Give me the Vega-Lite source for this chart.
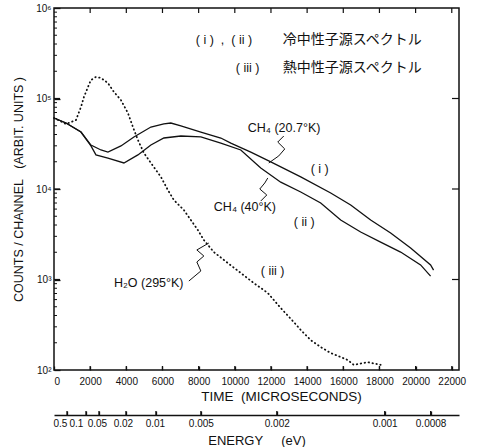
{
  "$schema": "https://vega.github.io/schema/vega-lite/v6.json",
  "width": 405,
  "height": 362,
  "padding": {"left": 12, "top": 3, "right": 5, "bottom": 0},
  "background": "white",
  "datasets": {
    "ci": [
      {"t": 0, "c": 60900}, {"t": 663, "c": 53600}, {"t": 1492, "c": 42600}, {"t": 2044, "c": 30600},
      {"t": 2597, "c": 27000}, {"t": 2983, "c": 25600}, {"t": 3702, "c": 29900}, {"t": 4420, "c": 37600},
      {"t": 5359, "c": 48400}, {"t": 6077, "c": 52300}, {"t": 6464, "c": 53600}, {"t": 7017, "c": 49700},
      {"t": 8122, "c": 42600}, {"t": 9227, "c": 36600}, {"t": 9779, "c": 32200}, {"t": 10884, "c": 25600},
      {"t": 11989, "c": 19900}, {"t": 13646, "c": 13600}, {"t": 15304, "c": 9030}, {"t": 16409, "c": 6650},
      {"t": 17514, "c": 4540}, {"t": 18619, "c": 3270}, {"t": 19724, "c": 2230}, {"t": 20829, "c": 1450},
      {"t": 20994, "c": 1270}
    ],
    "cii": [
      {"t": 0, "c": 60900}, {"t": 663, "c": 53600}, {"t": 1492, "c": 42600}, {"t": 2044, "c": 29900},
      {"t": 2320, "c": 23800}, {"t": 2983, "c": 22000}, {"t": 3867, "c": 19400}, {"t": 4641, "c": 23800},
      {"t": 5359, "c": 30600}, {"t": 6077, "c": 36600}, {"t": 7017, "c": 38500}, {"t": 8122, "c": 37600},
      {"t": 9227, "c": 32200}, {"t": 10331, "c": 27000}, {"t": 11436, "c": 17100}, {"t": 12541, "c": 11900},
      {"t": 13646, "c": 9270}, {"t": 14751, "c": 7000}, {"t": 15856, "c": 4540}, {"t": 16961, "c": 3350},
      {"t": 18066, "c": 2590}, {"t": 19171, "c": 2010}, {"t": 20276, "c": 1450}, {"t": 20829, "c": 1090}
    ],
    "ciii": [
      {"t": 0, "c": 60900}, {"t": 663, "c": 52300}, {"t": 1215, "c": 57800}, {"t": 1492, "c": 80600},
      {"t": 1657, "c": 104000}, {"t": 1878, "c": 134000}, {"t": 2044, "c": 160000}, {"t": 2320, "c": 173000},
      {"t": 2597, "c": 169000}, {"t": 2983, "c": 148000}, {"t": 3315, "c": 118000}, {"t": 3702, "c": 96200},
      {"t": 4088, "c": 69200}, {"t": 4365, "c": 48400}, {"t": 4641, "c": 34800}, {"t": 4972, "c": 25000},
      {"t": 5359, "c": 19400}, {"t": 5912, "c": 13600}, {"t": 6298, "c": 9750}, {"t": 6630, "c": 7550},
      {"t": 7182, "c": 5860}, {"t": 7569, "c": 4540}, {"t": 7956, "c": 3520}, {"t": 8287, "c": 2730},
      {"t": 8840, "c": 2010}, {"t": 9613, "c": 1520}, {"t": 10331, "c": 1180}, {"t": 11050, "c": 914},
      {"t": 11823, "c": 710}, {"t": 12541, "c": 484}, {"t": 13260, "c": 339}, {"t": 13646, "c": 277},
      {"t": 14199, "c": 214}, {"t": 14751, "c": 179}, {"t": 15304, "c": 154}, {"t": 15856, "c": 139},
      {"t": 16243, "c": 129}, {"t": 16575, "c": 114}, {"t": 17348, "c": 122}, {"t": 18066, "c": 114}
    ],
    "arrows": [
      {"g": "a", "k": 0, "t": 12708, "c": 38500}, {"g": "a", "k": 1, "t": 12376, "c": 33000},
      {"g": "a", "k": 2, "t": 12763, "c": 27700}, {"g": "a", "k": 3, "t": 12431, "c": 23200},
      {"g": "a", "k": 4, "t": 11879, "c": 19400},
      {"g": "b", "k": 0, "t": 11437, "c": 7370}, {"g": "b", "k": 1, "t": 11768, "c": 8590},
      {"g": "b", "k": 2, "t": 11382, "c": 10000}, {"g": "b", "k": 3, "t": 11658, "c": 11650},
      {"g": "b", "k": 4, "t": 11824, "c": 13240},
      {"g": "c", "k": 0, "t": 7459, "c": 962}, {"g": "c", "k": 1, "t": 8122, "c": 1242},
      {"g": "c", "k": 2, "t": 7901, "c": 1561}, {"g": "c", "k": 3, "t": 8288, "c": 1818},
      {"g": "c", "k": 4, "t": 7901, "c": 2120}, {"g": "c", "k": 5, "t": 8564, "c": 2530}
    ],
    "notes": [
      {"t": 10719, "c": 47200, "label": "CH₄ (20.7°K)"},
      {"t": 8840, "c": 6320, "label": "CH₄ (40°K)"},
      {"t": 14199, "c": 16630, "label": "( i )"},
      {"t": 13260, "c": 4320, "label": "( ii )"},
      {"t": 11437, "c": 1242, "label": "( iii )"},
      {"t": 3315, "c": 915, "label": "H₂O (295°K)"},
      {"t": 7846, "c": 443000, "label": "( i )\u00a0\u00a0,\u00a0\u00a0( ii )"},
      {"t": 10056, "c": 217000, "label": "( iii )"}
    ],
    "notesJa": [
      {"t": 12652, "c": 443000, "label": "冷中性子源スペクトル"},
      {"t": 12652, "c": 217000, "label": "熱中性子源スペクトル"}
    ],
    "xticks": [
      {"v": 2000}, {"v": 4000}, {"v": 6000}, {"v": 8000}, {"v": 10000}, {"v": 12000},
      {"v": 14000}, {"v": 16000}, {"v": 18000}, {"v": 20000}, {"v": 22000}
    ],
    "yticks": [{"v": 1000}, {"v": 10000}, {"v": 100000}],
    "yminor": [
      {"v": 200}, {"v": 300}, {"v": 400}, {"v": 500}, {"v": 600}, {"v": 700}, {"v": 800}, {"v": 900},
      {"v": 2000}, {"v": 3000}, {"v": 4000}, {"v": 5000}, {"v": 6000}, {"v": 7000}, {"v": 8000}, {"v": 9000},
      {"v": 20000}, {"v": 30000}, {"v": 40000}, {"v": 50000}, {"v": 60000}, {"v": 70000}, {"v": 80000}, {"v": 90000},
      {"v": 200000}, {"v": 300000}, {"v": 400000}, {"v": 500000}, {"v": 600000}, {"v": 700000}, {"v": 800000}, {"v": 900000}
    ],
    "eticks": [
      {"v": 718}, {"v": 1768}, {"v": 2486}, {"v": 3978}, {"v": 5636}, {"v": 8122}, {"v": 12321}, {"v": 18288}, {"v": 20829}
    ]
  },
  "layer": [
    {
      "data": {"name": "ci"},
      "mark": {"type": "line", "stroke": "#111", "strokeWidth": 1.3},
      "encoding": {
        "x": {"field": "t", "type": "quantitative", "scale": {"domain": [0, 22400], "nice": false, "zero": false},
          "axis": {"orient": "bottom", "values": [0, 2000, 4000, 6000, 8000, 10000, 12000, 14000, 16000, 18000, 20000, 22000],
            "format": "d", "offset": -4, "ticks": true, "tickSize": 4, "tickWidth": 1.3, "labelPadding": 6, "labelFontSize": 10, "labelOverlap": false, "domain": false,
            "title": "TIME\u00a0\u00a0(MICROSECONDS)", "titleFontSize": 13.5, "titlePadding": 3, "titleX": 227}},
        "y": {"field": "c", "type": "quantitative", "scale": {"type": "log", "domain": [100, 1000000], "nice": false},
          "axis": {"orient": "left", "values": [100, 1000, 10000, 100000, 1000000],
            "labelExpr": "datum.value == 100 ? '10²' : datum.value == 1000 ? '10³' : datum.value == 10000 ? '10⁴' : datum.value == 100000 ? '10⁵' : '10⁶'",
            "offset": -6, "ticks": true, "tickSize": 6, "tickWidth": 1.3, "labelPadding": 3, "labelFontSize": 10, "domain": false,
            "title": "COUNTS / CHANNEL\u00a0\u00a0\u00a0(ARBIT. UNITS )", "titleFontSize": 12.5, "titlePadding": 10}}
      }
    },
    {
      "data": {"name": "cii"},
      "mark": {"type": "line", "stroke": "#111", "strokeWidth": 1.3},
      "encoding": {
        "x": {"field": "t", "type": "quantitative", "scale": {"domain": [0, 22400], "nice": false, "zero": false}, "axis": null},
        "y": {"field": "c", "type": "quantitative", "scale": {"type": "log", "domain": [100, 1000000], "nice": false}, "axis": null}
      }
    },
    {
      "data": {"name": "ciii"},
      "mark": {"type": "line", "stroke": "#111", "strokeWidth": 1.8, "strokeDash": [0.5, 3.5], "strokeCap": "round"},
      "encoding": {
        "x": {"field": "t", "type": "quantitative", "scale": {"domain": [0, 22400], "nice": false, "zero": false},
          "axis": {"orient": "bottom", "offset": 41, "values": [718, 1768, 2486, 3978, 5636, 8122, 12321, 18288, 20829],
            "labelExpr": "datum.value == 718 ? '0.5' : datum.value == 1768 ? '0.1' : datum.value == 2486 ? '0.05' : datum.value == 3978 ? '0.02' : datum.value == 5636 ? '0.01' : datum.value == 8122 ? '0.005' : datum.value == 12321 ? '0.002' : datum.value == 18288 ? '0.001' : '0.0008'",
            "labelOffset": {"expr": "datum.value == 718 ? -7 : datum.value == 1768 ? -10 : datum.value == 2486 ? -2 : datum.value == 3978 ? -3 : datum.value == 5636 ? -1 : 0"},
            "labelOverlap": false, "ticks": true, "tickSize": 4, "tickWidth": 1.3, "labelPadding": 3, "labelFontSize": 10, "domain": false,
            "title": "ENERGY\u00a0\u00a0\u00a0\u00a0\u00a0(eV)", "titleFontSize": 13, "titlePadding": 6}},
        "y": {"field": "c", "type": "quantitative", "scale": {"type": "log", "domain": [100, 1000000], "nice": false}, "axis": null}
      }
    },
    {
      "data": {"name": "arrows"},
      "mark": {"type": "line", "stroke": "#111", "strokeWidth": 1},
      "encoding": {
        "x": {"field": "t", "type": "quantitative", "scale": {"domain": [0, 22400], "nice": false, "zero": false},
          "axis": {"orient": "bottom", "offset": 45, "domain": true, "domainWidth": 1.3, "ticks": false, "labels": false, "title": null}},
        "y": {"field": "c", "type": "quantitative", "scale": {"type": "log", "domain": [100, 1000000], "nice": false}, "axis": null},
        "detail": {"field": "g"},
        "order": {"field": "k"}
      }
    },
    {
      "data": {"name": "xticks"},
      "mark": {"type": "tick", "orient": "vertical", "size": 8, "thickness": 1.2, "color": "#111", "opacity": 1, "clip": true},
      "encoding": {
        "x": {"field": "v", "type": "quantitative", "scale": {"domain": [0, 22400], "nice": false, "zero": false}, "axis": null},
        "y": {"datum": 100, "type": "quantitative", "scale": {"type": "log", "domain": [100, 1000000], "nice": false}, "axis": null}
      }
    },
    {
      "data": {"name": "xticks"},
      "mark": {"type": "tick", "orient": "vertical", "size": 10, "thickness": 1.2, "color": "#111", "opacity": 1, "clip": true},
      "encoding": {
        "x": {"field": "v", "type": "quantitative", "scale": {"domain": [0, 22400], "nice": false, "zero": false}, "axis": null},
        "y": {"datum": 1000000, "type": "quantitative", "scale": {"type": "log", "domain": [100, 1000000], "nice": false}, "axis": null}
      }
    },
    {
      "data": {"name": "yticks"},
      "mark": {"type": "tick", "orient": "horizontal", "size": 12, "thickness": 1.2, "color": "#111", "opacity": 1, "clip": true},
      "encoding": {
        "x": {"datum": 0, "type": "quantitative", "scale": {"domain": [0, 22400], "nice": false, "zero": false}, "axis": null},
        "y": {"field": "v", "type": "quantitative", "scale": {"type": "log", "domain": [100, 1000000], "nice": false}, "axis": null}
      }
    },
    {
      "data": {"name": "yticks"},
      "mark": {"type": "tick", "orient": "horizontal", "size": 14, "thickness": 1.2, "color": "#111", "opacity": 1, "clip": true},
      "encoding": {
        "x": {"datum": 22400, "type": "quantitative", "scale": {"domain": [0, 22400], "nice": false, "zero": false}, "axis": null},
        "y": {"field": "v", "type": "quantitative", "scale": {"type": "log", "domain": [100, 1000000], "nice": false}, "axis": null}
      }
    },
    {
      "data": {"name": "yminor"},
      "mark": {"type": "tick", "orient": "horizontal", "size": 6, "thickness": 1, "color": "#111", "opacity": 1, "clip": true},
      "encoding": {
        "x": {"datum": 0, "type": "quantitative", "scale": {"domain": [0, 22400], "nice": false, "zero": false}, "axis": null},
        "y": {"field": "v", "type": "quantitative", "scale": {"type": "log", "domain": [100, 1000000], "nice": false}, "axis": null}
      }
    },
    {
      "data": {"name": "eticks"},
      "mark": {"type": "tick", "orient": "vertical", "size": 4, "thickness": 1.2, "color": "#111", "opacity": 1},
      "encoding": {
        "x": {"field": "v", "type": "quantitative", "scale": {"domain": [0, 22400], "nice": false, "zero": false}, "axis": null},
        "y": {"datum": 33.5, "type": "quantitative", "scale": {"type": "log", "domain": [100, 1000000], "nice": false}, "axis": null}
      }
    },
    {
      "data": {"name": "notes"},
      "mark": {"type": "text", "align": "left", "baseline": "middle", "font": "Liberation Sans", "fontSize": 12.5, "color": "#111"},
      "encoding": {
        "x": {"field": "t", "type": "quantitative", "scale": {"domain": [0, 22400], "nice": false, "zero": false}, "axis": null},
        "y": {"field": "c", "type": "quantitative", "scale": {"type": "log", "domain": [100, 1000000], "nice": false}, "axis": null},
        "text": {"field": "label"}
      }
    },
    {
      "data": {"name": "notesJa"},
      "mark": {"type": "text", "align": "left", "baseline": "middle", "font": "Noto Sans CJK JP", "fontSize": 14, "color": "#111"},
      "encoding": {
        "x": {"field": "t", "type": "quantitative", "scale": {"domain": [0, 22400], "nice": false, "zero": false}, "axis": null},
        "y": {"field": "c", "type": "quantitative", "scale": {"type": "log", "domain": [100, 1000000], "nice": false}, "axis": null},
        "text": {"field": "label"}
      }
    }
  ],
  "resolve": {"axis": {"x": "independent", "y": "independent"}},
  "config": {
    "view": {"stroke": "#111", "strokeWidth": 1.5},
    "font": "Liberation Sans",
    "axis": {"labelFont": "Liberation Sans", "titleFont": "Liberation Sans", "labelColor": "#111", "titleColor": "#111",
      "tickColor": "#111", "domainColor": "#111", "grid": false, "titleFontWeight": "normal"}
  }
}
